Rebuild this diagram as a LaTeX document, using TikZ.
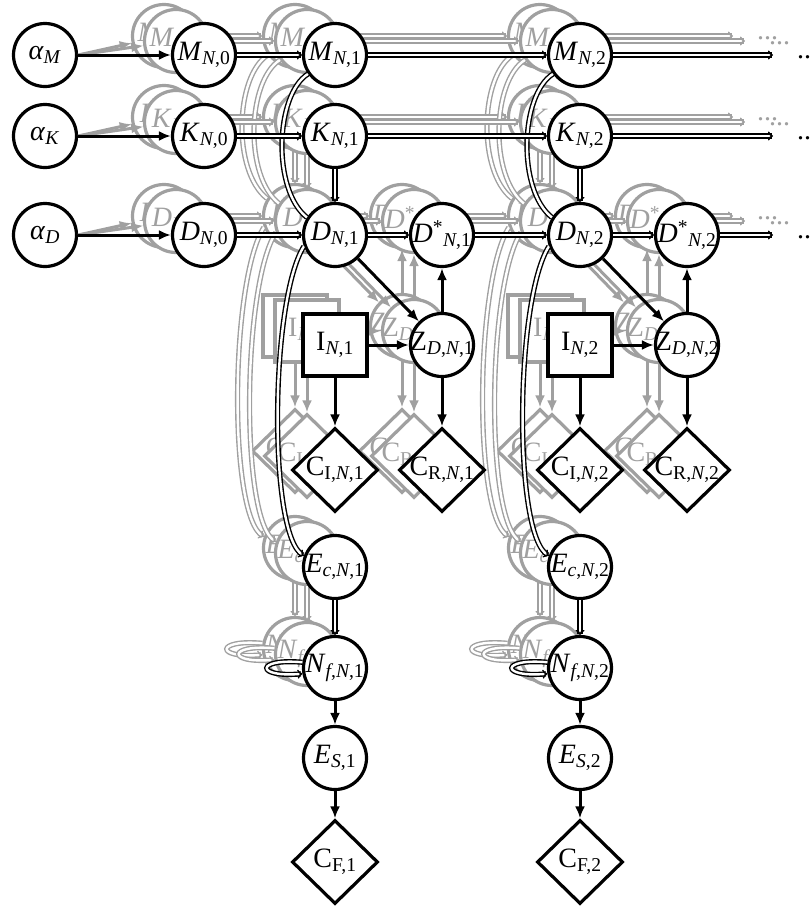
\documentclass[tikz,border=0pt]{standalone}
\usepackage{fontspec}
\setmainfont{Liberation Serif}
\usetikzlibrary{arrows.meta,shapes.geometric}
\definecolor{gcol}{RGB}{160,160,160}
\newcommand\lc{black}
\newcommand\lbl[1]{\makebox[0pt]{#1}}
\newcommand\sbx[1]{\textsubscript{#1}}
\tikzset{
 every node/.style={font=\fontsize{28}{32}\selectfont},
 cn/.style={circle, draw=\lc, fill=white, line width=3.2pt, minimum size=63pt, inner sep=0pt, text=\lc},
 bx/.style={rectangle, draw=\lc, fill=white, line width=3.2pt, minimum width=64pt, minimum height=62pt, inner sep=0pt, text=\lc},
 dm/.style={diamond, draw=\lc, fill=white, line width=3.2pt, minimum width=86pt, minimum height=84pt, inner sep=0pt, text=\lc},
 sgl/.style={draw=\lc, line width=3pt, -{Latex[length=12pt,width=10pt]}},
 dbl/.style={draw=\lc, line width=1.4pt, double=white, double distance=2.4pt, -{To[length=5pt,width=9pt]}},
 dln/.style={draw=\lc, line width=1.4pt, double=white, double distance=2.4pt},
 dt/.style={text=\lc, anchor=west, inner sep=0pt},
}
\newcommand\tcol[3]{%
 \begin{scope}[shift={(#3,0)}]
 \node[cn] (#1M#2) at (335,-55) {\lbl{\textit{M}\sbx{\textit{N},#2}}};
 \node[cn] (#1K#2) at (335,-136) {\lbl{\textit{K}\sbx{\textit{N},#2}}};
 \node[cn] (#1D#2) at (335,-235) {\lbl{\textit{D}\sbx{\textit{N},#2}}};
 \node[cn] (#1S#2) at (442,-235) {\lbl{\textit{D}\textsuperscript{*}\sbx{\textit{N},#2}}};
 \node[bx] (#1I#2) at (335,-345) {\lbl{I\sbx{\textit{N},#2}}};
 \node[cn] (#1Z#2) at (442,-345) {\lbl{Z\sbx{\textit{D},\textit{N},#2}}};
 \node[dm] (#1CI#2) at (335,-470) {\lbl{C\sbx{I,\textit{N},#2}}};
 \node[dm] (#1CR#2) at (442,-470) {\lbl{C\sbx{R,\textit{N},#2}}};
 \node[cn] (#1E#2) at (335,-567) {\lbl{\textit{E}\sbx{\textit{c},\textit{N},#2}}};
 \node[cn] (#1N#2) at (335,-668) {\lbl{\textit{N}\sbx{\textit{f},\textit{N},#2}}};
 \draw[dbl] (#1K#2) -- (#1D#2);
 \draw[dbl] (#1D#2) -- (#1S#2);
 \draw[dln] (#1M#2.215) .. controls (275,-95) and (272,-190) .. (#1D#2.148);
 \draw[sgl] (#1D#2) -- (#1Z#2);
 \draw[sgl] (#1I#2) -- (#1Z#2);
 \draw[sgl] (#1Z#2) -- (#1S#2);
 \draw[sgl] (#1I#2) -- (#1CI#2);
 \draw[sgl] (#1Z#2) -- (#1CR#2);
 \draw[dbl] (#1D#2.200) .. controls (270,-300) and (268,-535) .. (#1E#2.160);
 \draw[dbl] (#1E#2) -- (#1N#2);
 \draw[dbl] (#1N#2.170) .. controls (255,-658) and (255,-678) .. (#1N#2.190);
 \end{scope}}
\newcommand\layer[1]{%
 \node[cn] (#1M0) at (204,-55) {\lbl{\textit{M}\sbx{\textit{N},0}}};
 \node[cn] (#1K0) at (204,-136) {\lbl{\textit{K}\sbx{\textit{N},0}}};
 \node[cn] (#1D0) at (204,-235) {\lbl{\textit{D}\sbx{\textit{N},0}}};
 \draw[sgl] (aM.east) -- (#1M0);
 \draw[sgl] (aK.east) -- (#1K0);
 \draw[sgl] (aD.east) -- (#1D0);
 \tcol{#1}{1}{0}
 \tcol{#1}{2}{245}
 \draw[dbl] (#1M0) -- (#1M1);
 \draw[dbl] (#1K0) -- (#1K1);
 \draw[dbl] (#1D0) -- (#1D1);
 \draw[dbl] (#1M1) -- (#1M2);
 \draw[dbl] (#1K1) -- (#1K2);
 \draw[dbl] (#1S1) -- (#1D2);
 \coordinate (#1eM) at (773,-55);
 \coordinate (#1eK) at (773,-136);
 \coordinate (#1eD) at (773,-235);
 \draw[dbl] (#1M2) -- (#1eM);
 \draw[dbl] (#1K2) -- (#1eK);
 \draw[dbl] (#1S2) -- (#1eD);
 \node[dt] (#1tM) at (797,-57) {...};
 \node[dt] (#1tK) at (797,-138) {...};
 \node[dt] (#1tD) at (797,-237) {...};
}
\begin{document}
\begin{tikzpicture}[x=1pt,y=1pt]
\useasboundingbox (0,0) rectangle (811,-911);
\node[cn] (aM) at (45,-55) {\lbl{\textit{α}\sbx{\textit{M}}}};
\node[cn] (aK) at (45,-136) {\lbl{\textit{α}\sbx{\textit{K}}}};
\node[cn] (aD) at (45,-235) {\lbl{\textit{α}\sbx{\textit{D}}}};
\begin{scope}[shift={(-40,19)}]
 \renewcommand\lc{gcol}
 \layer{b}
\end{scope}
\begin{scope}[shift={(-28,14)}]
 \renewcommand\lc{gcol}
 \layer{f}
\end{scope}
\begin{scope}
 \renewcommand\lc{black}
 \layer{k}
 \node[cn] (kES1) at (335,-758) {\lbl{\textit{E}\sbx{\textit{S},1}}};
 \node[cn] (kES2) at (580,-758) {\lbl{\textit{E}\sbx{\textit{S},2}}};
 \node[dm] (kCF1) at (335,-862) {\lbl{C\sbx{F,1}}};
 \node[dm] (kCF2) at (580,-862) {\lbl{C\sbx{F,2}}};
 \draw[sgl] (kN1) -- (kES1);
 \draw[sgl] (kN2) -- (kES2);
 \draw[sgl] (kES1) -- (kCF1);
 \draw[sgl] (kES2) -- (kCF2);
\end{scope}
\end{tikzpicture}
\end{document}
